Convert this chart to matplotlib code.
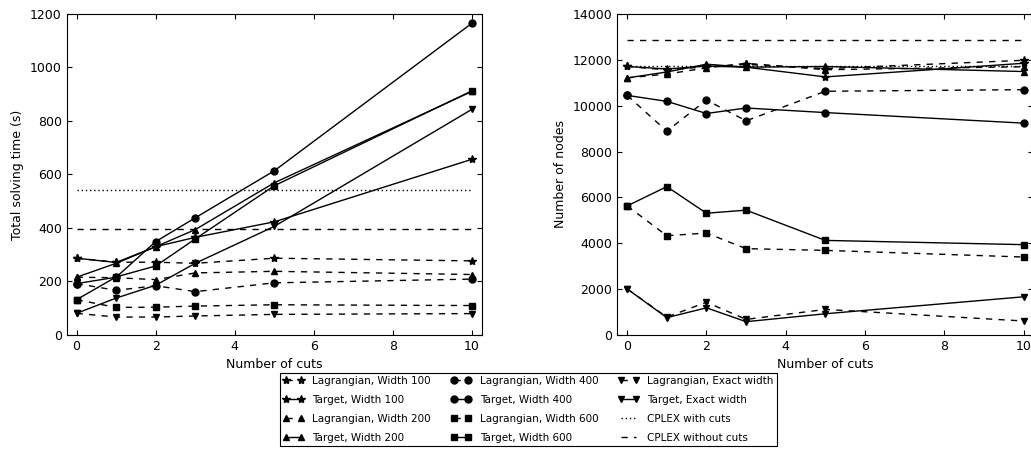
import numpy as np
import matplotlib
matplotlib.use("Agg")
import matplotlib.pyplot as plt

cuts = [0, 1, 2, 3, 5, 10]

# solving time (s)
time_lag_100 = [287, 272, 272, 268, 287, 277]
time_tgt_100 = [287, 271, 330, 365, 423, 657]
time_lag_200 = [216, 214, 207, 232, 238, 226]
time_tgt_200 = [216, 268, 330, 394, 569, 911]
time_lag_400 = [192, 167, 184, 162, 195, 209]
time_tgt_400 = [192, 216, 349, 438, 614, 1166]
time_lag_600 = [132, 103, 104, 108, 113, 110]
time_tgt_600 = [132, 217, 258, 359, 558, 913]
time_lag_exact = [81, 67, 67, 71, 77, 80]
time_tgt_exact = [81, 138, 186, 268, 406, 844]
time_cplex_cuts = 541
time_cplex_nocuts = 398

# number of nodes
nodes_lag_100 = [11713, 11560, 11700, 11800, 11620, 11980]
nodes_tgt_100 = [11713, 11600, 11730, 11680, 11256, 11850]
nodes_lag_200 = [11212, 11380, 11650, 11850, 11570, 11700]
nodes_tgt_200 = [11212, 11470, 11810, 11680, 11710, 11490]
nodes_lag_400 = [10450, 8890, 10250, 9340, 10630, 10700]
nodes_tgt_400 = [10450, 10190, 9660, 9900, 9700, 9240]
nodes_lag_600 = [5630, 4330, 4445, 3765, 3690, 3400]
nodes_tgt_600 = [5630, 6470, 5310, 5445, 4125, 3940]
nodes_lag_exact = [2010, 780, 1430, 680, 1115, 610]
nodes_tgt_exact = [2010, 755, 1185, 580, 925, 1665]
nodes_cplex_cuts = 11710
nodes_cplex_nocuts = 12870

labels = ["Lagrangian, Width 100", "Target, Width 100",
          "Lagrangian, Width 200", "Target, Width 200",
          "Lagrangian, Width 400", "Target, Width 400",
          "Lagrangian, Width 600", "Target, Width 600",
          "Lagrangian, Exact width", "Target, Exact width",
          "CPLEX with cuts", "CPLEX without cuts"]
markers = ["*", "*", "^", "^", "o", "o", "s", "s", "v", "v"]

plt.rcParams["font.family"] = "DejaVu Sans"
plt.rcParams["xtick.direction"] = "in"
plt.rcParams["ytick.direction"] = "in"
plt.rcParams["xtick.top"] = True
plt.rcParams["ytick.right"] = True
plt.rcParams["xtick.major.size"] = 3.5
plt.rcParams["ytick.major.size"] = 3.5
plt.rcParams["axes.linewidth"] = 0.8

DASH = (0, (4.5, 4.5))
DOT = (0, (1, 2))

fig = plt.figure(figsize=(10.31, 4.5), dpi=100)
ax1 = fig.add_axes([0.0647, 0.2556, 0.4028, 0.7133])
ax2 = fig.add_axes([0.5987, 0.2556, 0.4037, 0.7133])


def draw(ax, series, cplex_cuts, cplex_nocuts):
    handles = []
    for i, ys in enumerate(series):
        ls = DASH if i % 2 == 0 else "-"
        h, = ax.plot(cuts, ys, color="black", linestyle=ls, linewidth=1.0,
                     marker=markers[i], markersize=5 if markers[i] != "*" else 6,
                     markerfacecolor="black", markeredgecolor="black")
        handles.append(h)
    h, = ax.plot(cuts, [cplex_cuts] * len(cuts), color="black",
                 linestyle=DOT, linewidth=1.0)
    handles.append(h)
    h, = ax.plot(cuts, [cplex_nocuts] * len(cuts), color="black",
                 linestyle=DASH, linewidth=1.0)
    handles.append(h)
    ax.set_xlim(-0.25, 10.25)
    ax.set_xticks([0, 2, 4, 6, 8, 10])
    ax.set_xlabel("Number of cuts", fontsize=9)
    ax.tick_params(labelsize=9)
    return handles


handles = draw(ax1, [time_lag_100, time_tgt_100, time_lag_200, time_tgt_200,
                     time_lag_400, time_tgt_400, time_lag_600, time_tgt_600,
                     time_lag_exact, time_tgt_exact],
               time_cplex_cuts, time_cplex_nocuts)
ax1.set_ylim(0, 1200)
ax1.set_yticks(np.arange(0, 1201, 200))
ax1.set_ylabel("Total solving time (s)", fontsize=9)

draw(ax2, [nodes_lag_100, nodes_tgt_100, nodes_lag_200, nodes_tgt_200,
           nodes_lag_400, nodes_tgt_400, nodes_lag_600, nodes_tgt_600,
           nodes_lag_exact, nodes_tgt_exact],
     nodes_cplex_cuts, nodes_cplex_nocuts)
ax2.set_ylim(0, 14000)
ax2.set_yticks(np.arange(0, 14001, 2000))
ax2.set_ylabel("Number of nodes", fontsize=9)

leg = fig.legend(handles, labels, loc="upper center",
                 bbox_to_anchor=(0.5126, 1 - 373 / 450), ncol=3, numpoints=2,
                 fontsize=7.5, fancybox=False, framealpha=1,
                 edgecolor="black", borderaxespad=0, handlelength=2,
                 columnspacing=1.9, labelspacing=0.85, borderpad=0.3)
leg.get_frame().set_linewidth(0.8)

fig.savefig("out.png", dpi=100, facecolor="white")
